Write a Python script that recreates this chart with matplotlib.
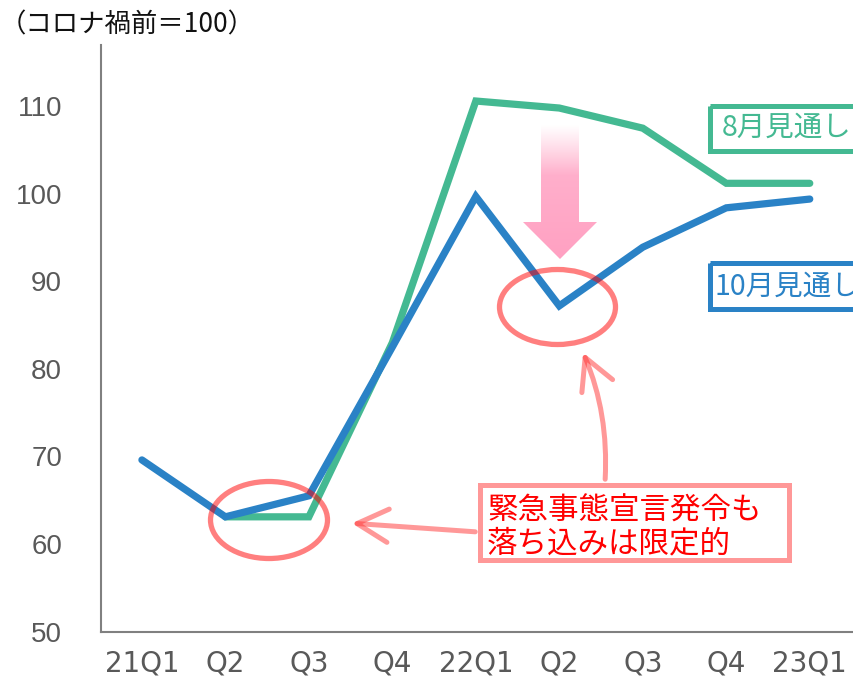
import numpy as np
import matplotlib
matplotlib.use("Agg")
import matplotlib.pyplot as plt
from matplotlib.patches import Rectangle, Ellipse, Polygon, FancyArrowPatch

# ---- data ----
quarters = ["21Q1", "Q2", "Q3", "Q4", "22Q1", "Q2", "Q3", "Q4", "23Q1"]
aug_outlook = [np.nan, 63.1, 63.1, 83.0, 110.6, 109.8, 107.5, 101.2, 101.2]
oct_outlook = [69.6, 63.1, 65.5, 82.5, 99.7, 87.2, 93.9, 98.4, 99.4]
yticks = [50, 60, 70, 80, 90, 100, 110]
title_text = "（コロナ禍前＝100）"
label_aug = "8月見通し"
label_oct = "10月見通し"
note_lines = ["緊急事態宣言発令も", "落ち込みは限定的"]

GREEN = "#44B992"
BLUE = "#2A82C6"
GRAY = "#595959"
CJK = ["Noto Sans CJK JP", "DejaVu Sans"]

W, H = 854, 679
fig = plt.figure(figsize=(W / 100, H / 100), dpi=100)

# main axes (pixel geometry)
left_px, right_px, top_px, bottom_px = 101, 854, 45, 631.5
ax = fig.add_axes([left_px / W, (H - bottom_px) / H,
                   (right_px - left_px) / W, (bottom_px - top_px) / H])
x = np.arange(len(quarters))
ax.plot(x, oct_outlook, color=BLUE, lw=5.2, solid_capstyle="round",
        solid_joinstyle="miter", zorder=3)
ax.plot(x, aug_outlook, color=GREEN, lw=5.2, solid_capstyle="round",
        solid_joinstyle="miter", zorder=2)
ax.set_xlim(-0.49, 8.53)
ax.set_ylim(50, 117)
ax.set_yticks(yticks)
ax.set_xticks(x)
ax.set_xticklabels(quarters, family=["Liberation Sans Narrow", "DejaVu Sans"],
                   fontsize=20, color=GRAY)
ax.set_yticklabels([str(v) for v in yticks], family=["Liberation Sans", "DejaVu Sans"],
                   fontsize=20, color=GRAY)
ax.tick_params(axis="y", length=0, pad=28)
ax.tick_params(axis="x", length=0, pad=13)
for s in ["top", "right"]:
    ax.spines[s].set_visible(False)
for s in ["left", "bottom"]:
    ax.spines[s].set_color("#808080")
    ax.spines[s].set_linewidth(1.5)
ax.patch.set_alpha(0)

# overlay axes in pixel coordinates for annotations
ov = fig.add_axes([0, 0, 1, 1], zorder=5)
ov.set_xlim(0, W)
ov.set_ylim(H, 0)
ov.axis("off")
ov.patch.set_alpha(0)

# title
ov.text(0, 25, title_text, family=CJK, fontsize=19, color="#111111",
        va="center", ha="left")

# outlook label boxes
ov.add_patch(Rectangle((710.5, 105.5), 200, 45, fill=False, ec=GREEN, lw=3.6))
ov.text(722, 128, label_aug, family=CJK, fontsize=20.5, color=GREEN, va="center", ha="left")
ov.add_patch(Rectangle((710.5, 262.5), 200, 46, fill=False, ec=BLUE, lw=3.6))
ov.text(715, 287, label_oct, family=CJK, fontsize=20.5, color=BLUE, va="center", ha="left")

# ellipses
ov.add_patch(Ellipse((269, 520), 117, 77, fill=False, ec=(1, 0, 0, 0.5), lw=3.8))
ov.add_patch(Ellipse((557.5, 307), 116, 75, fill=False, ec=(1, 0, 0, 0.5), lw=3.8))

# pink gradient arrow
poly = [(541, 125), (579, 125), (579, 222), (597, 222), (560, 259),
        (523, 222), (541, 222)]
clip = Polygon(poly, closed=True, fc="none", ec="none")
ov.add_patch(clip)
n = 200
ys = np.linspace(125, 259, n)
grad = np.zeros((n, 2, 4))
t = (ys - 125) / (259 - 125)
grad[:, :, 0] = 1.0
grad[:, :, 1] = (0.72 - 0.09 * t)[:, None]
grad[:, :, 2] = (0.82 - 0.06 * t)[:, None]
grad[:, :, 3] = np.clip((ys - 125) / 50, 0, 1)[:, None]
im = ov.imshow(grad, extent=[523, 597, 259, 125], origin="upper",
               aspect="auto", interpolation="bilinear", zorder=1)
im.set_clip_path(clip)
ov.set_xlim(0, W)
ov.set_ylim(H, 0)

# note box
NOTE = (1, 0.2, 0.2, 0.5)
ov.add_patch(Rectangle((480.5, 484.5), 309, 75, fill=True, fc="white", ec=NOTE, lw=3.6))
ov.text(487, 511, note_lines[0], family=CJK, fontsize=22, color="#ff0000",
        va="center", ha="left")
ov.text(487, 544, note_lines[1], family=CJK, fontsize=22, color="#ff0000",
        va="center", ha="left")

# arrows
a1 = FancyArrowPatch((478, 532), (349, 523),
                     arrowstyle="->,head_length=1.4,head_width=0.75",
                     mutation_scale=16, color=NOTE, lw=3.6, capstyle="round")
ov.add_patch(a1)
a2 = FancyArrowPatch((605, 482), (582, 350), connectionstyle="arc3,rad=0.12",
                     arrowstyle="->,head_length=1.4,head_width=0.75",
                     mutation_scale=16, color=NOTE, lw=3.6)
ov.add_patch(a2)

fig.savefig("out.png", dpi=100)
